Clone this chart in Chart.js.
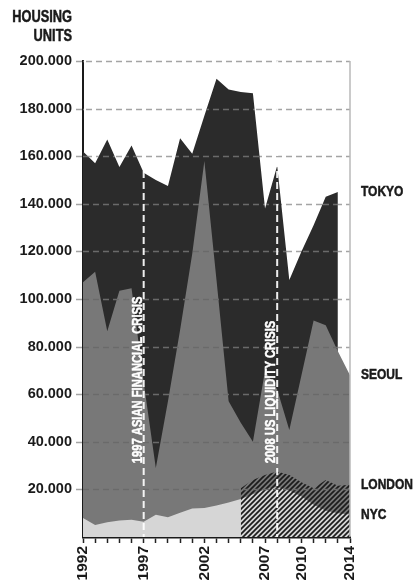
<!DOCTYPE html>
<html>
<head>
<meta charset="utf-8">
<script src="https://cdn.jsdelivr.net/npm/chart.js@4"></script>
<style>
  html, body { margin: 0; padding: 0; background: #fff; }
  #wrap { width: 416px; height: 584px; position: relative; }
</style>
</head>
<body>
<div id="wrap"><canvas id="housing"></canvas></div>
<script>
const years = [1992, 1993, 1994, 1995, 1996, 1997, 1998, 1999, 2000, 2001, 2002, 2003,
               2004, 2005, 2006, 2007, 2008, 2009, 2010, 2011, 2012, 2013, 2014];
const tokyo  = [162000, 157000, 167000, 155500, 164500, 153000, 150000, 147500, 167500, 161000, 177000, 192500,
                188000, 187000, 186500, 138000, 156000, 108000, 120000, 131000, 143000, 145000, null];
const seoul  = [107000, 111500, 86500, 103500, 104500, 65000, 29000, 57000, 87000, 119000, 158000, 108000,
                57000, 48000, 40000, 70000, 62000, 45000, 68000, 91000, 89000, 78000, 68000];
const london = [null, null, null, null, null, null, null, null, null, null, null, null,
                null, 20500, 24000, 26000, 27500, 26000, 23000, 20500, 24000, 21500, 22000];
const nyc    = [8000, 5000, 6200, 6900, 7200, 6400, 9300, 8300, 10200, 12000, 12200, 13200,
                14500, 16000, 18000, 20000, 21000, 19500, 17000, 13500, 11000, 10000, 9500];
const xLabels = [1992, 1997, 2002, 2007, 2010, 2014];
const crises = [[1997, '1997 ASIAN FINANCIAL CRISIS'], [2008, '2008 US LIQUIDITY CRISIS']];
const cityNames = ['LONDON', 'NYC', 'SEOUL', 'TOKYO'];

const FONT = "'Liberation Sans', Arial, sans-serif";

function hatch() {
  const c = document.createElement('canvas');
  c.width = 5; c.height = 5;
  const g = c.getContext('2d');
  g.strokeStyle = '#1c1c1c';
  g.lineWidth = 1.7;
  g.beginPath();
  g.moveTo(-1, 6); g.lineTo(6, -1);
  g.moveTo(-1, 1); g.lineTo(1, -1);
  g.moveTo(4, 6); g.lineTo(6, 4);
  g.stroke();
  return g.createPattern(c, 'repeat');
}

// condensed look: squeeze bold text horizontally, thicken a little
function narrowText(ctx, txt, x, y, align, rot) {
  ctx.save();
  ctx.translate(x, y);
  if (rot) ctx.rotate(rot);
  ctx.scale(0.8, 1);
  ctx.textAlign = align;
  ctx.strokeStyle = ctx.fillStyle;
  ctx.lineWidth = 0.5;
  ctx.setLineDash([]);
  ctx.fillText(txt, 0, 0);
  ctx.strokeText(txt, 0, 0);
  ctx.restore();
}

const extras = {
  id: 'extras',
  afterDatasetsDraw(chart) {
    const {ctx, chartArea: a, scales: {x, y}} = chart;
    ctx.save();
    // dashed grid: darker over the areas, lighter on the white
    ctx.setLineDash([6, 4]);
    ctx.lineWidth = 1.5;
    const vals = y.ticks.map(t => t.value).filter(v => v !== 0);
    ctx.globalCompositeOperation = 'source-atop';
    ctx.strokeStyle = '#6a6a6a';
    vals.forEach(v => {
      const py = Math.round(y.getPixelForValue(v)) + 0.5;
      ctx.beginPath(); ctx.moveTo(a.left, py); ctx.lineTo(a.right, py); ctx.stroke();
    });
    ctx.globalCompositeOperation = 'destination-over';
    ctx.strokeStyle = '#a4a4a4';
    vals.forEach(v => {
      const py = Math.round(y.getPixelForValue(v)) + 0.5;
      ctx.beginPath(); ctx.moveTo(a.left - 7, py); ctx.lineTo(a.right, py); ctx.stroke();
    });
    ctx.globalCompositeOperation = 'source-over';

    // right frame
    ctx.setLineDash([]);
    ctx.strokeStyle = '#b8b8b8';
    ctx.beginPath(); ctx.moveTo(a.right, a.top); ctx.lineTo(a.right, a.bottom); ctx.stroke();

    // crisis markers
    crises.forEach(([yr, txt]) => {
      const px = x.getPixelForValue(yr);
      ctx.setLineDash([7, 4]);
      ctx.strokeStyle = 'rgba(255,255,255,0.92)';
      ctx.lineWidth = 2;
      ctx.beginPath(); ctx.moveTo(px, a.top); ctx.lineTo(px, a.bottom); ctx.stroke();
      ctx.fillStyle = '#fff';
      ctx.font = 'bold 14px ' + FONT;
      ctx.textBaseline = 'alphabetic';
      narrowText(ctx, txt, px - 2, y.getPixelForValue(31000), 'left', -Math.PI / 2);
    });

    // series names at their last value
    ctx.fillStyle = '#1a1a1a';
    ctx.font = 'bold 15px ' + FONT;
    ctx.textBaseline = 'middle';
    chart.data.datasets.forEach(ds => {
      const last = ds.data.filter(v => v !== null).pop();
      narrowText(ctx, ds.label, a.right + 11, y.getPixelForValue(last), 'left');
    });

    // axis title
    ctx.font = 'bold 16px ' + FONT;
    narrowText(ctx, 'HOUSING', y.right - 11, 18, 'right');
    narrowText(ctx, 'UNITS', y.right - 11, 37, 'right');
    ctx.restore();
  }
};

new Chart(document.getElementById('housing'), {
  type: 'line',
  data: {
    labels: years,
    datasets: [
      { label: cityNames[0], data: london, backgroundColor: hatch() },
      { label: cityNames[1], data: nyc, backgroundColor: '#d6d6d6' },
      { label: cityNames[2], data: seoul, backgroundColor: '#787878' },
      { label: cityNames[3], data: tokyo, backgroundColor: '#2b2b2b' }
    ].map(ds => Object.assign(ds, { fill: 'origin', borderWidth: 0, pointRadius: 0, tension: 0 }))
  },
  options: {
    responsive: true,
    maintainAspectRatio: false,
    animation: false,
    layout: { padding: { top: 61, right: 66, bottom: 0, left: 0 } },
    plugins: { legend: { display: false }, tooltip: { enabled: false } },
    scales: {
      x: {
        type: 'linear',
        min: 1992,
        max: 2014,
        afterBuildTicks: s => { s.ticks = years.map(v => ({ value: v })); },
        afterFit: s => { s.height = 47; },
        ticks: {
          autoSkip: false,
          minRotation: 90,
          maxRotation: 90,
          padding: 3,
          color: '#1a1a1a',
          font: { family: FONT, size: 15.5, weight: 'bold' },
          callback: v => xLabels.includes(v) ? String(v) : ''
        },
        grid: { display: true, drawOnChartArea: false, drawTicks: true, tickLength: 6, tickWidth: 1.5, tickColor: '#222' },
        border: { display: true, color: '#1a1a1a', width: 2.5 }
      },
      y: {
        min: 0,
        max: 200000,
        afterFit: s => { s.width = 83; },
        ticks: {
          stepSize: 20000,
          padding: 11,
          color: '#1a1a1a',
          font: { family: FONT, size: 14.5, weight: 'bold' },
          callback: v => v === 0 ? '' : (v / 1000) + '.000'
        },
        grid: { display: false, drawTicks: false },
        border: { display: true, color: '#1a1a1a', width: 2 }
      }
    }
  },
  plugins: [extras]
});
</script>
</body>
</html>
